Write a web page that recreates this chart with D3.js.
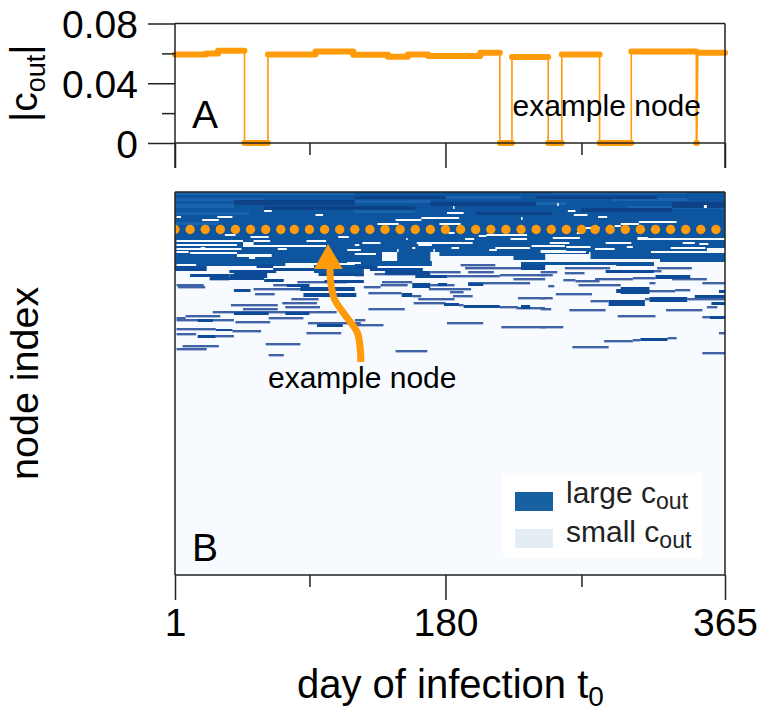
<!DOCTYPE html>
<html>
<head>
<meta charset="utf-8">
<script src="https://cdn.jsdelivr.net/npm/d3@7"></script>
<style>
  body { margin: 0; background: #fff; }
  text { font-family: "Liberation Sans", Arial, sans-serif; fill: #000; }
  .axis path { display: none; }
  .axis line { stroke: #222; stroke-width: 1.5; }
</style>
</head>
<body>
<script>
// panel A: example node, plateaus of |c_out| over the year
var plateauStart = [1, 21.5, 29.5, 47, 62.5, 94, 119, 142, 155, 168.5, 203, 216, 224, 248, 257, 282, 303, 346, 347];
var plateauEnd = [21.5, 29.5, 47, 62.5, 94, 119, 142, 155, 168.5, 203, 216, 224, 248, 257, 282, 303, 346, 346.4, 365];
var plateauValue = [.0592, .06, .0618, 0, .0592, .0612, .059, .0578, .0592, .0582, .0605, 0, .0575, 0, .0592, 0, .0612, 0, .0605];

// panel B: [first node, day start, day end, node span]
var bandRows = [[0, 1, 365, 60], [60, 1, 124, 11], [71, 1, 74, 3], [60, 120, 138, 9], [60, 148, 170, 9],
  [69, 120, 171, 5], [60, 322, 365, 10], [60, 276, 322, 7], [70, 243, 293, 3], [71, 279, 318, 2], [70, 293, 318, 4],
  [60, 176, 246, 4], [64, 225, 246, 4], [70, 230, 246, 4], [60, 243, 275, 2], [73, 93, 126, 8]];

var lightStreaks = [[0, 1, 120, 3], [6, 1, 60, 3], [12, 1, 40, 4], [0, 250, 340, 2], [8, 110, 170, 3], [4, 180, 230, 3],
  [30, 1, 30, 3], [10, 210, 260, 3], [18, 120, 160, 3], [6, 290, 340, 3], [14, 300, 365, 3], [20, 1, 50, 3]];
var darkStreaks = [[8, 40, 120, 5], [14, 60, 160, 4], [4, 120, 180, 3], [10, 170, 240, 4], [4, 240, 320, 3],
  [16, 270, 330, 4], [20, 200, 250, 3], [10, 330, 365, 6]];

// small c_out runs cut out of the dark band
var gapRuns = [[18, 60, 65, 2], [24, 2, 5, 2], [24, 29, 39, 2], [22, 94, 99, 2], [27, 19, 30, 2], [42, 34, 41, 2], [44, 51, 63, 2],
  [44, 109, 116, 2], [48, 88, 101, 2], [48, 53, 64, 2], [48, 2, 46, 2], [52, 2, 42, 2], [53, 46, 101, 2], [50, 46, 53, 3],
  [56, 2, 45, 2], [56, 69, 75, 2], [55, 18, 21, 2], [59, 2, 10, 2], [60, 11, 42, 2], [62, 42, 65, 3], [65, 50, 54, 2],
  [72, 2, 15, 2], [70, 115, 124, 2], [57, 115, 124, 2], [75, 22, 34, 2], [75, 34, 55, 2], [75, 66, 93, 2], [71, 75, 93, 5],
  [14, 185, 186, 3], [20, 181, 192, 2], [25, 164, 189, 2], [27, 147, 164, 2], [31, 135, 149, 2], [31, 176, 190, 2], [40, 182, 186, 2],
  [46, 193, 199, 2], [43, 202, 207, 2], [42, 207, 234, 2], [46, 223, 234, 2], [46, 154, 155, 2], [25, 230, 231, 3], [50, 125, 137, 2],
  [50, 161, 198, 2], [51, 162, 171, 3], [52, 120, 123, 2], [61, 120, 134, 2], [57, 148, 149, 3], [55, 158, 160, 2], [57, 172, 173, 3],
  [55, 184, 189, 2], [55, 213, 236, 2], [53, 237, 246, 2], [57, 209, 214, 2],
  [11, 254, 255, 3], [18, 261, 266, 2], [22, 265, 274, 2], [24, 281, 287, 2], [13, 351, 353, 3], [29, 308, 333, 2], [31, 296, 308, 2],
  [33, 292, 296, 2], [35, 269, 282, 2], [40, 267, 271, 2], [45, 307, 314, 3], [46, 314, 365, 2], [45, 251, 269, 2], [50, 249, 262, 2],
  [50, 286, 303, 2], [50, 337, 345, 2], [51, 348, 354, 2], [53, 243, 259, 2], [54, 260, 276, 2], [56, 279, 292, 2], [54, 300, 304, 2],
  [58, 243, 260, 2], [59, 243, 273, 2], [55, 329, 352, 2], [59, 316, 353, 2], [56, 353, 365, 5]];

// large c_out runs below the band
var darkRuns = [[74, 1, 22, 5], [78, 37, 68, 3], [82, 11, 37, 3], [82, 37, 60, 4], [87, 60, 73, 3], [101, 86, 121, 4], [120, 40, 63, 3],
  [120, 74, 90, 3], [127, 16, 26, 3], [137, 28, 39, 2], [143, 16, 28, 3], [132, 95, 112, 3], [97, 40, 51, 3], [92, 75, 90, 3],
  [79, 140, 170, 4], [83, 160, 181, 3], [91, 175, 181, 3], [91, 195, 205, 3], [91, 158, 170, 5], [101, 151, 158, 4], [111, 179, 189, 3],
  [113, 192, 216, 3], [113, 230, 236, 4], [73, 230, 246, 5], [78, 286, 318, 3], [83, 319, 342, 4], [95, 296, 315, 7], [97, 293, 313, 4],
  [105, 315, 340, 5], [108, 288, 312, 6], [110, 356, 365, 3], [103, 345, 365, 3], [98, 361, 365, 3], [124, 355, 365, 3], [146, 309, 327, 3],
  [80, 40, 62, 6], [85, 24, 60, 3], [72, 55, 66, 4], [76, 66, 93, 3], [81, 96, 126, 3], [88, 100, 126, 3], [95, 84, 120, 4],
  [74, 120, 135, 3], [76, 130, 165, 3]];

// medium c_out, mostly single node runs
var thinRuns = [[94, 3, 21], [92, 2, 20], [86, 24, 37], [96, 53, 90], [101, 54, 67], [106, 78, 96], [112, 38, 69], [110, 72, 95], [114, 74, 97],
  [116, 46, 69], [119, 26, 108], [123, 8, 31], [125, 2, 8], [127, 2, 40], [129, 41, 64], [125, 63, 86], [130, 89, 124], [136, 2, 28],
  [138, 39, 58], [140, 88, 111], [141, 2, 15], [143, 28, 40], [153, 6, 30], [156, 2, 22], [151, 61, 84], [162, 63, 73], [89, 82, 115],
  [92, 66, 86], [72, 190, 213], [75, 193, 230], [79, 195, 212], [79, 170, 190], [82, 120, 126], [81, 133, 160], [83, 181, 216],
  [82, 216, 246], [86, 225, 246], [89, 138, 158], [92, 137, 155], [94, 126, 137], [92, 170, 186], [90, 195, 236], [96, 169, 197],
  [99, 183, 192], [100, 129, 151], [103, 158, 164], [103, 185, 198], [105, 228, 246], [106, 162, 186], [110, 159, 180], [112, 189, 192],
  [114, 216, 228], [115, 227, 246], [116, 129, 153], [127, 120, 127], [132, 120, 139], [130, 181, 205], [134, 217, 246], [158, 147, 168],
  [75, 259, 289], [75, 320, 343], [78, 318, 323], [79, 243, 254], [80, 259, 272], [82, 243, 251], [86, 279, 304], [85, 304, 319],
  [86, 330, 353], [87, 258, 266], [88, 266, 282], [93, 248, 252], [92, 268, 296], [90, 315, 319], [90, 350, 365], [98, 313, 332],
  [97, 332, 342], [101, 253, 277], [105, 243, 251], [106, 340, 365], [108, 276, 288], [106, 312, 315], [114, 353, 360], [124, 350, 355],
  [123, 294, 319], [117, 262, 286], [117, 326, 350], [116, 243, 250], [134, 243, 258], [140, 361, 365], [148, 285, 304], [147, 304, 309],
  [145, 327, 333], [154, 264, 288], [160, 350, 365]];

var dotDays = [1, 11, 21, 31, 41, 51, 61, 71, 80, 90, 100, 110, 120, 130, 140, 150, 160, 170, 180, 190, 200, 210, 220, 230, 240, 250, 260, 270, 279, 289, 299, 309, 319, 329, 339, 349, 359];
var exampleNode = 37.5;

// arrow shaft and head as [day, node]
var arrowShaft = [[124, 170], [123.5, 155], [121.5, 140], [113, 122], [106.5, 107], [104, 90], [103.6, 76]];
var arrowHead = [[102.3, 52], [93, 77], [112, 77]];

var majorDays = [1, 180, 365], minorDays = [90, 270];
var majorCout = [0, .04, .08], minorCout = [.02, .06];

var orange = "#ff9a0a";

var svg = d3.select("body").append("svg")
    .attr("width", 766)
    .attr("height", 717);

var x = d3.scaleLinear().domain([1, 365]).range([175, 725]);
var yA = d3.scaleLinear().domain([0, .08]).range([143, 23.5]);
var yB = d3.scaleLinear().domain([0, 383]).range([192, 575]);

svg.append("defs").append("clipPath").attr("id", "heat")
  .append("rect").attr("x", 175).attr("y", 192).attr("width", 550).attr("height", 383);
var blur = svg.select("defs").append("filter").attr("id", "soft");
blur.append("feGaussianBlur").attr("stdDeviation", 0.5);

// panel B heatmap
var heat = svg.append("g").attr("clip-path", "url(#heat)");
heat.append("rect")
    .attr("x", 175).attr("y", 192).attr("width", 550).attr("height", 383)
    .attr("fill", "#f7fbff");

var runs = heat.append("g").attr("filter", "url(#soft)");

function drawRuns(data, color) {
  runs.append("g").selectAll("rect")
      .data(data)
    .enter().append("rect")
      .attr("x", (d) => x(d[1]))
      .attr("y", (d) => yB(d[0]))
      .attr("width", (d) => x(d[2]) - x(d[1]))
      .attr("height", (d) => yB(d[3] || 2.4) - yB(0))
      .attr("fill", color);
}

drawRuns(bandRows, "#0f559f");
drawRuns(lightStreaks, "#1c64ad");
drawRuns(darkStreaks, "#0a4389");
drawRuns(gapRuns, "#f7fbff");
drawRuns(thinRuns, "#3f62a6");
drawRuns(darkRuns, "#0f4c98");

heat.append("g").selectAll("circle")
    .data(dotDays)
  .enter().append("circle")
    .attr("cx", (d) => x(d))
    .attr("cy", yB(exampleNode))
    .attr("r", 4.7)
    .attr("fill", orange);

// arrow
svg.append("path")
    .attr("d", d3.line().x((d) => x(d[0])).y((d) => yB(d[1])).curve(d3.curveCatmullRom)(arrowShaft))
    .attr("fill", "none")
    .attr("stroke", orange)
    .attr("stroke-width", 7);
svg.append("path")
    .attr("d", d3.line().x((d) => x(d[0])).y((d) => yB(d[1]))(arrowHead) + "Z")
    .attr("fill", orange);

svg.append("text").attr("x", 268).attr("y", 388).attr("font-size", 30).text("example node");

// panel A series
var stepPoints = [];
plateauValue.forEach((v, i) => {
  stepPoints.push([plateauStart[i], v]);
  stepPoints.push([plateauEnd[i], v]);
});

svg.append("path")
    .attr("d", d3.line().x((d) => x(d[0])).y((d) => yA(d[1]))(stepPoints))
    .attr("fill", "none")
    .attr("stroke", orange)
    .attr("stroke-width", 1.6);

svg.append("g").selectAll("line")
    .data(plateauValue)
  .enter().append("line")
    .attr("x1", (d, i) => x(plateauStart[i]))
    .attr("x2", (d, i) => x(plateauEnd[i]))
    .attr("y1", (d) => yA(d))
    .attr("y2", (d) => yA(d))
    .attr("stroke", orange)
    .attr("stroke-width", 6)
    .attr("stroke-linecap", "round");

// axes
function bottomTicks(top, showLabels) {
  var major = svg.append("g")
      .attr("class", "axis")
      .attr("transform", `translate(0,${top})`)
      .call(d3.axisBottom(x).tickValues(majorDays).tickSize(25).tickPadding(8));
  major.selectAll("text")
      .attr("font-size", 39)
      .text((d) => showLabels ? d : "");
  svg.append("g")
      .attr("class", "axis")
      .attr("transform", `translate(0,${top})`)
      .call(d3.axisBottom(x).tickValues(minorDays).tickSize(12).tickFormat(""));
}

bottomTicks(143, false);
bottomTicks(575, true);

var leftMajor = svg.append("g")
    .attr("class", "axis")
    .attr("transform", "translate(175,0)")
    .call(d3.axisLeft(yA).tickValues(majorCout).tickSize(27).tickPadding(10)
      .tickFormat((d) => d === 0 ? "0" : d3.format(".2f")(d)));
leftMajor.selectAll("text")
    .attr("font-size", 39)
    .attr("dy", ".37em");
svg.append("g")
    .attr("class", "axis")
    .attr("transform", "translate(175,0)")
    .call(d3.axisLeft(yA).tickValues(minorCout).tickSize(13).tickFormat(""));

// frames
function frameLine(x1, y1, x2, y2) {
  svg.append("line")
      .attr("x1", x1).attr("y1", y1).attr("x2", x2).attr("y2", y2)
      .attr("stroke", "#222").attr("stroke-width", 1.5);
}

frameLine(175, 23.5, 725, 23.5);
frameLine(175, 143, 725, 143);
frameLine(175, 23.5, 175, 168);
frameLine(725, 23.5, 725, 168);
frameLine(175, 192, 725, 192);
frameLine(175, 192, 175, 575);
frameLine(725, 192, 725, 575);
frameLine(175, 575, 725, 575);

// panel labels
svg.append("text").attr("x", 192).attr("y", 128).attr("font-size", 39).text("A");
svg.append("text").attr("x", 192).attr("y", 561).attr("font-size", 39).text("B");
svg.append("text").attr("x", 512.5).attr("y", 116).attr("font-size", 30).text("example node");

// axis titles
var coutTitle = svg.append("text")
    .attr("transform", "translate(37,122) rotate(-90)")
    .attr("font-size", 39);
coutTitle.append("tspan").text("|c");
coutTitle.append("tspan").attr("font-size", 27).attr("dy", 8).text("out");
coutTitle.append("tspan").attr("dy", -8).text("|");

svg.append("text")
    .attr("transform", "translate(38,480) rotate(-90)")
    .attr("font-size", 39.5)
    .text("node index");

var dayTitle = svg.append("text")
    .attr("x", 297)
    .attr("y", 698)
    .attr("font-size", 40);
dayTitle.append("tspan").text("day of infection t");
dayTitle.append("tspan").attr("font-size", 28).attr("dy", 8).text("0");

// legend
svg.append("rect")
    .attr("x", 503).attr("y", 473).attr("width", 199).attr("height", 85)
    .attr("fill", "#fff");
svg.append("rect")
    .attr("x", 515).attr("y", 492).attr("width", 38).attr("height", 19)
    .attr("fill", "#1761a0");
svg.append("rect")
    .attr("x", 515).attr("y", 529).attr("width", 38).attr("height", 19)
    .attr("fill", "#e4ecf4");

[["large c", 503], ["small c", 541.5]].forEach((d) => {
  var t = svg.append("text")
      .attr("x", 566)
      .attr("y", d[1])
      .attr("font-size", 30)
      .style("fill", "#222");
  t.append("tspan").text(d[0]);
  t.append("tspan").attr("font-size", 23).attr("dy", 6).text("out");
});
</script>
</body>
</html>
